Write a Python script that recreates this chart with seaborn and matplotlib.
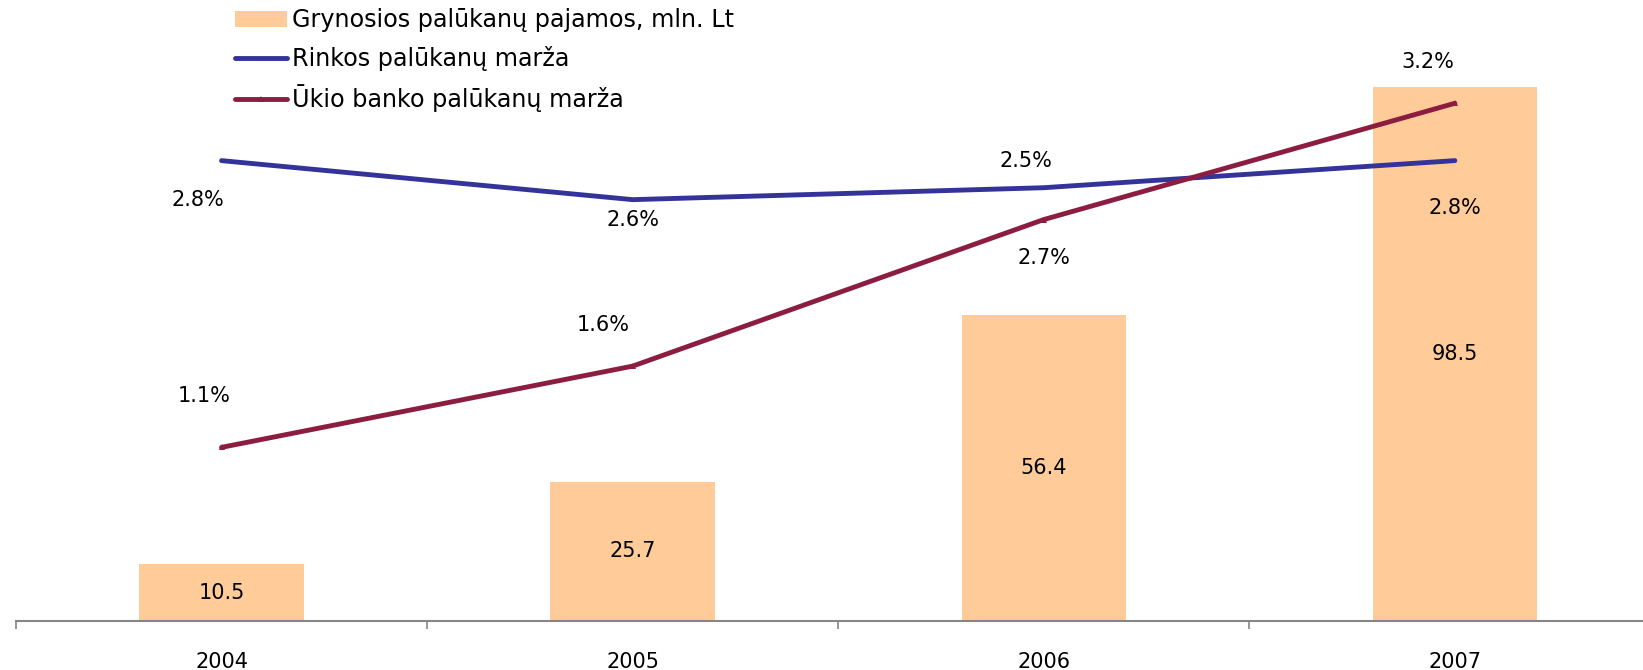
import numpy as np
import matplotlib
matplotlib.use("Agg")
import matplotlib.pyplot as plt
import seaborn as sns
from matplotlib.patches import Patch
from matplotlib.lines import Line2D

# ---- data ----
years = ["2004", "2005", "2006", "2007"]
income = [10.5, 25.7, 56.4, 98.5]               # Grynosios palūkanų pajamos, mln. Lt
market_margin = [2.89, 2.645, 2.72, 2.89]        # Rinkos palūkanų marža, %
bank_margin = [1.09, 1.60, 2.52, 3.25]           # Ūkio banko palūkanų marža, %
income_labels = ["10.5", "25.7", "56.4", "98.5"]
market_labels = ["2.8%", "2.6%", "2.5%", "2.8%"]
bank_labels = ["1.1%", "1.6%", "2.7%", "3.2%"]
series_names = ["Grynosios palūkanų pajamos, mln. Lt",
                "Rinkos palūkanų marža",
                "Ūkio banko palūkanų marža"]

# ---- layout / style ----
BAR_C = "#FFCC99"
BLUE = "#333399"
RED = "#8C1D40"
market_off = [(-24, -39), (0, -20), (-18, 27), (0, -47)]
bank_off = [(-17, 51), (-29, 41), (0, -38), (-27, 41)]

sns.set_style("white")
plt.rcParams["font.family"] = ["DejaVu Sans"]
plt.rcParams["text.color"] = "black"
plt.rcParams["xtick.color"] = "black"
FS = 15
LFS = 17.2

W, H = 1643, 670
fig = plt.figure(figsize=(W / 100, H / 100), dpi=100)
ax = fig.add_axes([16 / W, 49 / H, 1644.4 / W, 621 / H])

x = np.arange(len(years))
sns.barplot(x=x, y=income, ax=ax, color=BAR_C, width=0.4, saturation=1,
            native_scale=True, edgecolor="none")
ax.set_xlim(-0.5, len(years) - 0.5)
ax.set_ylim(0, 98.5 * 621 / 534.4)

for xi, v, lab in zip(x, income, income_labels):
    ax.text(xi, v / 2, lab, ha="center", va="center", fontsize=FS, color="black")

ax2 = ax.twinx()
ax2.set_ylim(0, 621 / 159.3)
sns.lineplot(x=x, y=market_margin, ax=ax2, color=BLUE, lw=3.5,
             solid_capstyle="round")
sns.lineplot(x=x, y=bank_margin, ax=ax2, color=RED, lw=3.5, marker="^",
             markersize=5, markeredgewidth=0, solid_capstyle="round")

for xi, v, lab, off in zip(x, market_margin, market_labels, market_off):
    ax2.annotate(lab, (xi, v), xytext=off, textcoords="offset pixels",
                 ha="center", va="center", fontsize=FS, color="black")
for xi, v, lab, off in zip(x, bank_margin, bank_labels, bank_off):
    ax2.annotate(lab, (xi, v), xytext=off, textcoords="offset pixels",
                 ha="center", va="center", fontsize=FS, color="black")

for a in (ax, ax2):
    for s in ("left", "right", "top"):
        a.spines[s].set_visible(False)
    a.set_yticks([])
    a.set_ylabel("")
ax2.spines["bottom"].set_visible(False)
ax.spines["bottom"].set_color("#868686")
ax.spines["bottom"].set_linewidth(1.5)

ax.set_xticks(np.arange(-0.5, len(years), 1.0))
ax.set_xticklabels([])
ax.tick_params(axis="x", which="major", length=6, width=1.2, color="#868686",
               direction="out", bottom=True)
ax.set_xticks(x, minor=True)
ax.set_xticklabels(years, minor=True, fontsize=FS, color="black")
ax.tick_params(axis="x", which="minor", length=0, pad=22)
ax2.tick_params(axis="x", which="both", length=0)

handles = [Patch(facecolor=BAR_C, edgecolor="none"),
           Line2D([], [], color=BLUE, lw=3.5),
           Line2D([], [], color=RED, lw=3.5, marker="^", markersize=5,
                  markeredgewidth=0)]
leg = fig.legend(handles, series_names, loc="upper left",
                 bbox_to_anchor=(213 / W, 1 + 13 / H), frameon=False,
                 fontsize=LFS, handlelength=2.2, handletextpad=0.2,
                 labelspacing=0.55, handleheight=0.6, labelcolor="black")

fig.savefig("out.png", dpi=100)
